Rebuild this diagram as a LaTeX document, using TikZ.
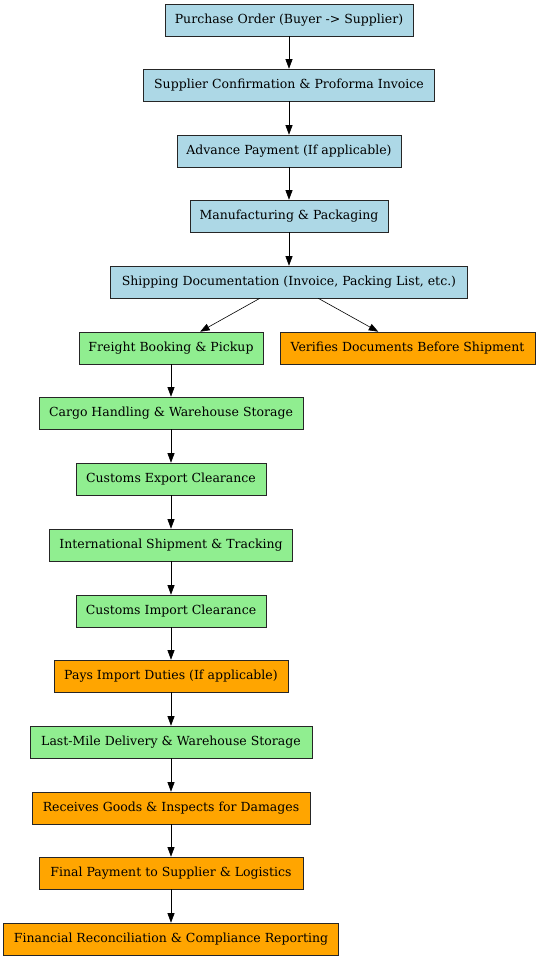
\documentclass[tikz,border=0pt]{standalone}
\usepackage{fontspec}
\setmainfont{DejaVu Serif}
\usetikzlibrary{arrows.meta}
\definecolor{lblue}{HTML}{ADD8E6}
\definecolor{lgreen}{HTML}{90EE90}
\definecolor{orng}{HTML}{FFA500}
\begin{document}
\begin{tikzpicture}[x=1pt,y=-1pt,
  box/.style={draw=black!85, line width=0.6pt, minimum height=32pt, inner sep=0pt, font=\fontsize{12.5}{14}\selectfont},
  blue/.style={box, fill=lblue},
  green/.style={box, fill=lgreen},
  org/.style={box, fill=orng},
  arr/.style={-{Triangle[length=9.5pt,width=7pt]}, line width=0.6pt}]
\useasboundingbox (0,0) rectangle (539,960);
\node[blue, minimum width=248pt] (n1) at (289,20) {Purchase Order (Buyer -> Supplier)};
\node[blue, minimum width=291pt] (n2) at (289,85) {Supplier Confirmation \& Proforma Invoice};
\node[blue, minimum width=224pt] (n3) at (289,151) {Advance Payment (If applicable)};
\node[blue, minimum width=198pt] (n4) at (289,216) {Manufacturing \& Packaging};
\node[blue, minimum width=357pt] (n5) at (289,282) {Shipping Documentation (Invoice, Packing List, etc.)};
\node[green, minimum width=184pt] (n6) at (171,348) {Freight Booking \& Pickup};
\node[org, minimum width=255pt] (n6b) at (407.5,348) {Verifies Documents Before Shipment};
\node[green, minimum width=264pt] (n7) at (171,413) {Cargo Handling \& Warehouse Storage};
\node[green, minimum width=190pt] (n8) at (171,479) {Customs Export Clearance};
\node[green, minimum width=243pt] (n9) at (171,545) {International Shipment \& Tracking};
\node[green, minimum width=190pt] (n10) at (171,611) {Customs Import Clearance};
\node[org, minimum width=234pt] (n11) at (171,676) {Pays Import Duties (If applicable)};
\node[green, minimum width=282pt] (n12) at (171,742) {Last-Mile Delivery \& Warehouse Storage};
\node[org, minimum width=278pt] (n13) at (171,808) {Receives Goods \& Inspects for Damages};
\node[org, minimum width=264pt] (n14) at (171,873) {Final Payment to Supplier \& Logistics};
\node[org, minimum width=335pt] (n15) at (171,939) {Financial Reconciliation \& Compliance Reporting};
\draw[arr] (n1) -- (n2);
\draw[arr] (n2) -- (n3);
\draw[arr] (n3) -- (n4);
\draw[arr] (n4) -- (n5);
\draw[arr] (n5) -- (n6);
\draw[arr] (n5) -- (n6b);
\draw[arr] (n6) -- (n7);
\draw[arr] (n7) -- (n8);
\draw[arr] (n8) -- (n9);
\draw[arr] (n9) -- (n10);
\draw[arr] (n10) -- (n11);
\draw[arr] (n11) -- (n12);
\draw[arr] (n12) -- (n13);
\draw[arr] (n13) -- (n14);
\draw[arr] (n14) -- (n15);
\end{tikzpicture}
\end{document}
